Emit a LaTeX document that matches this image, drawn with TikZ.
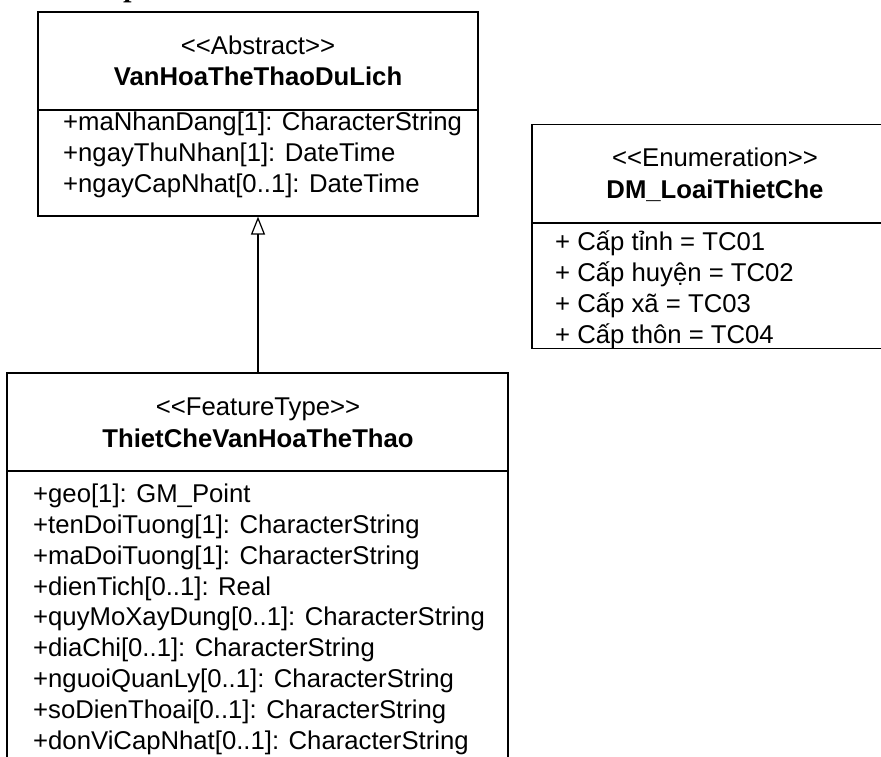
\documentclass[tikz,border=0pt]{standalone}
\usepackage{fontspec}
\setmainfont{Liberation Sans}
\newfontfamily\headserif{Liberation Serif}
\usetikzlibrary{arrows.meta}
\tikzset{
  classbox/.style={draw=black, line width=1.2pt, inner sep=0pt, fill=none},
  divider/.style={draw=black, line width=1.2pt},
  txt/.style={inner sep=0pt, font=\fontsize{25.7}{30.8}\selectfont},
  stereo/.style={txt, anchor=base},
  cname/.style={txt, anchor=base, font=\fontsize{25.7}{30.8}\selectfont\bfseries},
  attr/.style={txt, anchor=base west},
  generalization/.style={line width=1.2pt, -{Triangle[open, length=18pt, width=14pt, line width=1.2pt]}}
}
\begin{document}
\begin{tikzpicture}[x=1pt, y=-1pt]
  \useasboundingbox (0,0) rectangle (881,756);
  \clip (0,0) rectangle (881,756);

  % heading above the diagram (only its lowest part falls on the page)
  \node[inner sep=0pt, anchor=base, font=\fontsize{30}{36}\selectfont\headserif\bfseries\itshape] (heading) at (133,-4) {p};

  % abstract base class
  \node[classbox, minimum width=440pt, minimum height=204pt] (base) at (258,114) {};
  \path[divider] (base.west |- 0,110) -- (base.east |- 0,110);
  \node[stereo] (baseSt) at (258,54) {<{}<Abstract>{}>};
  \node[cname] (baseNm) at (258,85) {VanHoaTheThaoDuLich};
  \node[attr] (b1) at (63,130) {+maNhanDang[1]: CharacterString};
  \node[attr] (b2) at (63,161) {+ngayThuNhan[1]: DateTime};
  \node[attr] (b3) at (63,192) {+ngayCapNhat[0..1]: DateTime};

  % enumeration
  \node[classbox, minimum width=368pt, minimum height=224pt] (enum) at (716,236.5) {};
  \path[divider] (enum.west |- 0,223) -- (enum.east |- 0,223);
  \node[stereo] (enumSt) at (715,166) {<{}<Enumeration>{}>};
  \node[cname] (enumNm) at (715,198) {DM\_LoaiThietChe};
  \node[attr] (e1) at (555,250) {+ Cấp tỉnh = TC01};
  \node[attr] (e2) at (555,281) {+ Cấp huyện = TC02};
  \node[attr] (e3) at (555,312) {+ Cấp xã = TC03};
  \node[attr] (e4) at (555,343) {+ Cấp thôn = TC04};

  % feature type
  \node[classbox, minimum width=501pt, minimum height=440pt] (feat) at (257.5,593) {};
  \path[divider] (feat.west |- 0,471) -- (feat.east |- 0,471);
  \node[stereo] (featSt) at (258,415) {<{}<FeatureType>{}>};
  \node[cname] (featNm) at (258,447) {ThietCheVanHoaTheThao};
  \node[attr] (f1) at (33,502) {+geo[1]: GM\_Point};
  \node[attr] (f2) at (33,533) {+tenDoiTuong[1]: CharacterString};
  \node[attr] (f3) at (33,564) {+maDoiTuong[1]: CharacterString};
  \node[attr] (f4) at (33,595) {+dienTich[0..1]: Real};
  \node[attr] (f5) at (33,625) {+quyMoXayDung[0..1]: CharacterString};
  \node[attr] (f6) at (33,656) {+diaChi[0..1]: CharacterString};
  \node[attr] (f7) at (33,687) {+nguoiQuanLy[0..1]: CharacterString};
  \node[attr] (f8) at (33,718) {+soDienThoai[0..1]: CharacterString};
  \node[attr] (f9) at (33,749) {+donViCapNhat[0..1]: CharacterString};

  % generalization
  \draw[generalization] (feat.north -| base.south) -- (base.south);
\end{tikzpicture}
\end{document}
